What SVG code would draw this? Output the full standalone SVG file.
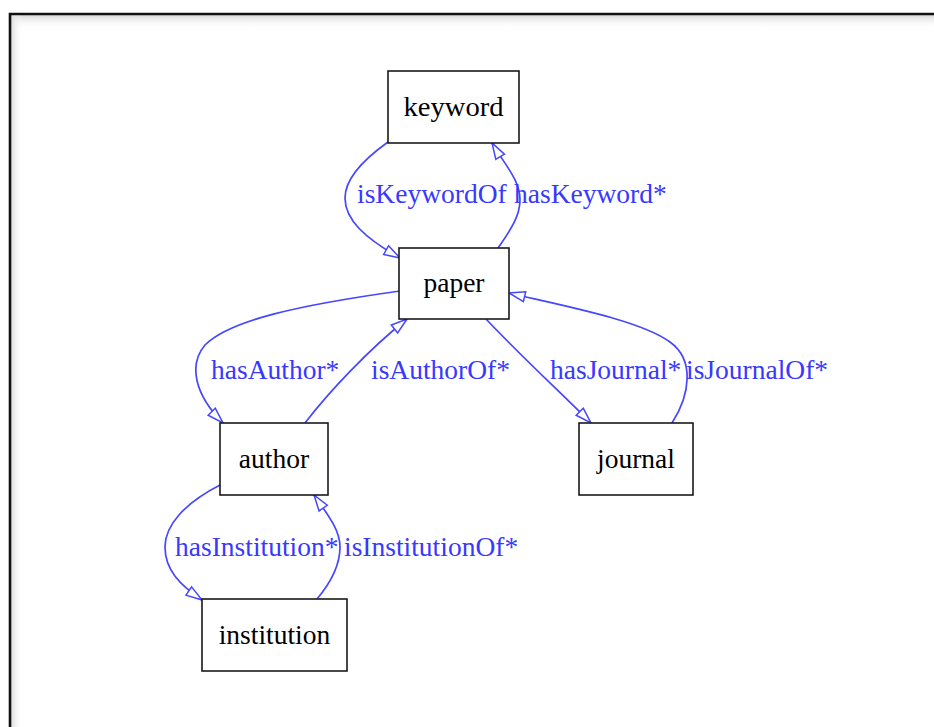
<svg xmlns="http://www.w3.org/2000/svg" width="934" height="727" viewBox="0 0 934 727">
  <style>
    .node rect { fill: #ffffff; stroke: #1a1a1a; stroke-width: 1.6; }
    .node text { font-family: "Liberation Serif", "Times New Roman", serif; font-size: 27.5px; fill: #000000; text-anchor: middle; }
    .edge { fill: none; stroke: #4646ff; stroke-width: 1.7; marker-end: url(#open-arrow); }
    .elabel { font-family: "Liberation Serif", "Times New Roman", serif; font-size: 27.5px; fill: #3838ff; }
  </style>
  <defs>
    <marker id="open-arrow" markerUnits="userSpaceOnUse" markerWidth="20" markerHeight="14" viewBox="0 0 20 14" refX="17" refY="7" orient="auto">
      <path d="M1,2 L17,7 L1,12 Z" fill="#ffffff" stroke="#4646ff" stroke-width="1.5"/>
    </marker>
    <linearGradient id="shadow-top" x1="0" y1="0" x2="0" y2="1">
      <stop offset="0" stop-color="#d8d8d8"/>
      <stop offset="1" stop-color="#ffffff" stop-opacity="0"/>
    </linearGradient>
    <linearGradient id="shadow-left" x1="0" y1="0" x2="1" y2="0">
      <stop offset="0" stop-color="#dcdcdc"/>
      <stop offset="1" stop-color="#ffffff" stop-opacity="0"/>
    </linearGradient>
  </defs>

  <!-- page -->
  <rect x="0" y="0" width="934" height="727" fill="#ffffff"/>
  <rect x="11" y="15" width="923" height="14" fill="url(#shadow-top)"/>
  <rect x="11" y="15" width="12" height="712" fill="url(#shadow-left)"/>
  <path d="M10,740 L10,14 L950,14" fill="none" stroke="#111111" stroke-width="2.6"/>

  <!-- connectors -->
  <g id="edges">
    <path class="edge" d="M388,142 C360,162 345,180 345,198 C345,220 365,238 400,258"/>
    <path class="edge" d="M498,248 C512,228 520,215 520,200 C520,180 505,165 492,143"/>
    <path class="edge" d="M400,291 C300,305 230,320 205,345 C188,365 195,395 223,423"/>
    <path class="edge" d="M305,423 C328,393 368,350 407,319"/>
    <path class="edge" d="M486,319 C520,355 560,392 591,423"/>
    <path class="edge" d="M672,423 C690,395 695,360 670,342 C640,320 560,305 509,293"/>
    <path class="edge" d="M220,485 C185,503 165,525 165,547 C165,570 180,585 202,600"/>
    <path class="edge" d="M317,599 C333,580 340,563 340,547 C340,530 328,515 314,495"/>

    <text class="elabel" x="357" y="203">isKeywordOf</text>
    <text class="elabel" x="514" y="203">hasKeyword*</text>
    <text class="elabel" x="211" y="379">hasAuthor*</text>
    <text class="elabel" x="371" y="379">isAuthorOf*</text>
    <text class="elabel" x="550" y="379">hasJournal*</text>
    <text class="elabel" x="686" y="379">isJournalOf*</text>
    <text class="elabel" x="175" y="556">hasInstitution*</text>
    <text class="elabel" x="344" y="556">isInstitutionOf*</text>
  </g>

  <!-- nodes -->
  <g id="keyword" class="node">
    <rect x="388" y="71" width="131" height="72"/>
    <text x="453.5" y="115.5" textLength="100" lengthAdjust="spacingAndGlyphs">keyword</text>
  </g>
  <g id="paper" class="node">
    <rect x="399" y="248" width="110" height="71"/>
    <text x="454" y="292">paper</text>
  </g>
  <g id="author" class="node">
    <rect x="220" y="423" width="108" height="72"/>
    <text x="274" y="467.5">author</text>
  </g>
  <g id="journal" class="node">
    <rect x="579" y="423" width="114" height="72"/>
    <text x="636" y="467.5">journal</text>
  </g>
  <g id="institution" class="node">
    <rect x="202" y="599" width="145" height="72"/>
    <text x="274.5" y="643.5">institution</text>
  </g>
</svg>
